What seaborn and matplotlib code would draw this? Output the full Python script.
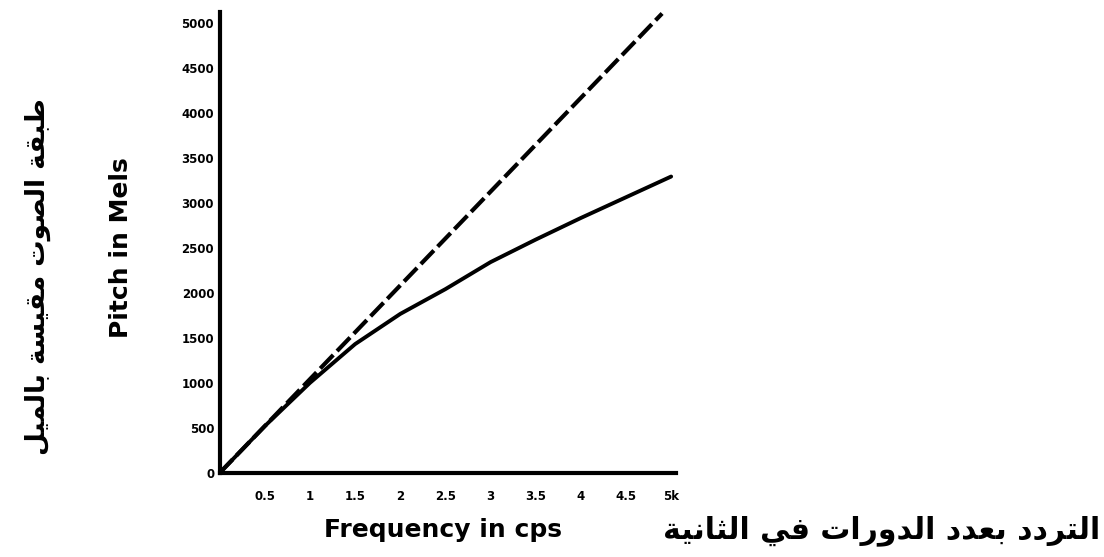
"""
Mel scale chart: pitch in mels against frequency, with the linear reference line.
"""

import matplotlib
matplotlib.use("Agg")
import matplotlib.pyplot as plt
import numpy as np
import pandas as pd
import seaborn as sns

# data
freq_hz = [0, 500, 1000, 1500, 2000, 2500, 3000, 3500, 4000, 4500, 5000]
pitch_mels = [0, 520, 1000, 1430, 1765, 2040, 2340, 2590, 2830, 3060, 3290]
linear_hz = [0, 4900]
linear_mels = [0, 5100]

x_ticks = [500, 1000, 1500, 2000, 2500, 3000, 3500, 4000, 4500, 5000]
x_tick_labels = ["0.5", "1", "1.5", "2", "2.5", "3", "3.5", "4", "4.5", "5k"]
y_ticks = [0, 500, 1000, 1500, 2000, 2500, 3000, 3500, 4000, 4500, 5000]

x_label = "Frequency in cps"
y_label = "Pitch in Mels"
x_label_ar = "التردد بعدد الدورات في الثانية"
y_label_ar = "طبقة الصوت مقيسة بالميل"

# Arabic presentation forms: isolated, final, initial, medial
AR_FORMS = {
    "ا": ("\uFE8D", "\uFE8E", None, None),
    "ب": ("\uFE8F", "\uFE90", "\uFE91", "\uFE92"),
    "ة": ("\uFE93", "\uFE94", None, None),
    "ت": ("\uFE95", "\uFE96", "\uFE97", "\uFE98"),
    "ث": ("\uFE99", "\uFE9A", "\uFE9B", "\uFE9C"),
    "د": ("\uFEA9", "\uFEAA", None, None),
    "ر": ("\uFEAD", "\uFEAE", None, None),
    "س": ("\uFEB1", "\uFEB2", "\uFEB3", "\uFEB4"),
    "ص": ("\uFEB9", "\uFEBA", "\uFEBB", "\uFEBC"),
    "ط": ("\uFEC1", "\uFEC2", "\uFEC3", "\uFEC4"),
    "ع": ("\uFEC9", "\uFECA", "\uFECB", "\uFECC"),
    "ف": ("\uFED1", "\uFED2", "\uFED3", "\uFED4"),
    "ق": ("\uFED5", "\uFED6", "\uFED7", "\uFED8"),
    "ل": ("\uFEDD", "\uFEDE", "\uFEDF", "\uFEE0"),
    "م": ("\uFEE1", "\uFEE2", "\uFEE3", "\uFEE4"),
    "ن": ("\uFEE5", "\uFEE6", "\uFEE7", "\uFEE8"),
    "و": ("\uFEED", "\uFEEE", None, None),
    "ي": ("\uFEF1", "\uFEF2", "\uFEF3", "\uFEF4"),
}


def shape_arabic(text):
    """Minimal shaping + visual reordering so matplotlib draws joined RTL text."""
    out = []
    for i, ch in enumerate(text):
        if ch not in AR_FORMS:
            out.append(ch)
            continue
        prev = text[i - 1] if i > 0 else ""
        nxt = text[i + 1] if i + 1 < len(text) else ""
        joins_prev = prev in AR_FORMS and AR_FORMS[prev][2] is not None
        joins_next = AR_FORMS[ch][2] is not None and nxt in AR_FORMS
        iso, fin, ini, med = AR_FORMS[ch]
        if joins_prev and joins_next:
            out.append(med)
        elif joins_prev:
            out.append(fin)
        elif joins_next:
            out.append(ini)
        else:
            out.append(iso)
    return "".join(reversed(out))


sns.set_theme(style="white")
plt.rcParams["font.family"] = ["DejaVu Sans"]
plt.rcParams["text.color"] = "black"

curve_df = pd.DataFrame({"freq": freq_hz, "mels": pitch_mels})
linear_df = pd.DataFrame({"freq": linear_hz, "mels": linear_mels})

fig = plt.figure(figsize=(11.04, 5.57), dpi=100)
ax = fig.add_axes([0.199, 0.151, 0.413, 0.828])

sns.lineplot(data=linear_df, x="freq", y="mels", ax=ax, color="black",
             linewidth=3.0, linestyle=(0, (4.5, 1.3)))
sns.lineplot(data=curve_df, x="freq", y="mels", ax=ax, color="black",
             linewidth=2.8)

ax.set_xlim(0, 5050)
ax.set_ylim(0, 5120)
ax.set_xticks(x_ticks)
ax.set_xticklabels(x_tick_labels, fontsize=8.5, fontweight="bold")
ax.set_yticks(y_ticks)
ax.set_yticklabels([str(v) for v in y_ticks], fontsize=8.5, fontweight="bold")
ax.tick_params(axis="y", direction="in", length=7, width=2, pad=4,
               colors="black", labelcolor="black")
ax.tick_params(axis="x", direction="in", length=5, width=2, pad=12,
               colors="black", labelcolor="black")

for side in ["top", "right"]:
    ax.spines[side].set_visible(False)
for side in ["left", "bottom"]:
    ax.spines[side].set_linewidth(3)
    ax.spines[side].set_color("black")

ax.set_xlabel("")
ax.set_ylabel("")

fig.text(0.401, 0.048, x_label, fontsize=18, fontweight="bold",
         ha="center", va="center", color="black")
fig.text(0.110, 0.555, y_label, fontsize=18, fontweight="bold",
         rotation=90, ha="center", va="center", color="black")
fig.text(0.997, 0.048, shape_arabic(x_label_ar), fontsize=21.5, fontweight="bold",
         ha="right", va="center", color="black")
fig.text(0.034, 0.503, shape_arabic(y_label_ar), fontsize=19, fontweight="bold",
         rotation=90, ha="center", va="center", color="black")

fig.savefig("out.png", dpi=100)
